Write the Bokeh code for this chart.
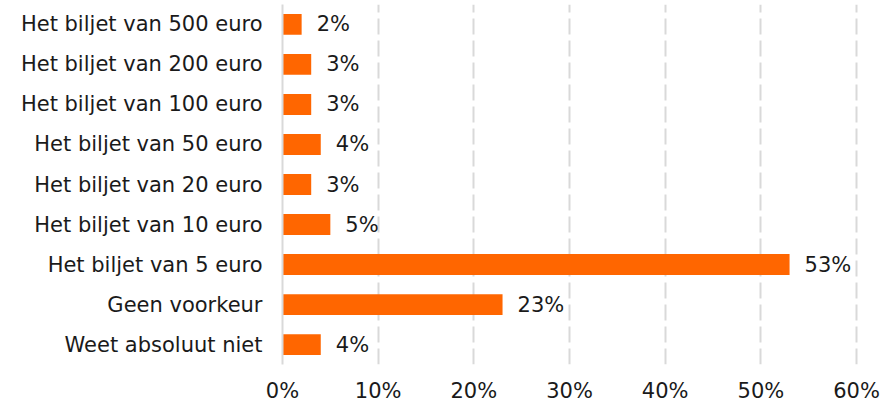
from bokeh.plotting import figure
from bokeh.models import ColumnDataSource, Range1d, FixedTicker
from bokeh.core.properties import value
from bokeh.embed import file_html
from bokeh.resources import INLINE

categories = [
    "Het biljet van 500 euro",
    "Het biljet van 200 euro",
    "Het biljet van 100 euro",
    "Het biljet van 50 euro",
    "Het biljet van 20 euro",
    "Het biljet van 10 euro",
    "Het biljet van 5 euro",
    "Geen voorkeur",
    "Weet absoluut niet",
]
values = [2, 3, 3, 4, 3, 5, 53, 23, 4]
x_ticks = [0, 10, 20, 30, 40, 50, 60]
x_tick_labels = ["0%", "10%", "20%", "30%", "40%", "50%", "60%"]

n = len(categories)
ypos = [n - i for i in range(n)]

FONT = "DejaVu Sans"
FS = "21px"

src = ColumnDataSource(dict(
    y=ypos, v=values, cat=categories,
    lab=[f"{v}%" for v in values],
))

p = figure(
    width=886, height=405,
    output_backend="svg", toolbar_location=None,
    x_range=Range1d(0, 61.46), y_range=Range1d(0.503, 9.497),
    min_border_left=282, min_border_right=16,
    min_border_top=4, min_border_bottom=39,
)
p.outline_line_color = None

p.hbar(y="y", right="v", left=0, height=0.522, source=src,
       fill_color="#FF6600", line_color=None)

p.text(x="v", y="y", text="lab", source=src, x_offset=15,
       text_align="left", text_baseline="middle",
       text_font=value(FONT), text_font_size=value(FS), text_color="#1a1a1a")

# Axes
p.xaxis.ticker = FixedTicker(ticks=x_ticks)
p.xaxis.major_label_overrides = {t: l for t, l in zip(x_ticks, x_tick_labels)}
p.xaxis.axis_line_color = None
p.xaxis.major_tick_line_color = None
p.xaxis.minor_tick_line_color = None
p.xaxis.major_tick_out = 0
p.xaxis.major_tick_in = 0
p.xaxis.major_label_standoff = 14
p.xaxis.major_label_text_font = FONT
p.xaxis.major_label_text_font_size = FS
p.xaxis.major_label_text_color = "#1a1a1a"

p.yaxis.ticker = FixedTicker(ticks=ypos)
p.yaxis.major_label_overrides = {y: c for y, c in zip(ypos, categories)}
p.yaxis.axis_line_color = "#d9d9d9"
p.yaxis.axis_line_width = 2
p.yaxis.major_tick_line_color = None
p.yaxis.minor_tick_line_color = None
p.yaxis.major_tick_out = 0
p.yaxis.major_label_standoff = 20
p.yaxis.major_label_text_font = FONT
p.yaxis.major_label_text_font_size = FS
p.yaxis.major_label_text_color = "#1a1a1a"

p.ygrid.grid_line_color = None
p.xgrid.ticker = FixedTicker(ticks=x_ticks[1:])
p.xgrid.grid_line_color = "#d9d9d9"
p.xgrid.grid_line_width = 2
p.xgrid.grid_line_dash = "16 6"

open("out.html", "w").write(file_html(p, INLINE))
